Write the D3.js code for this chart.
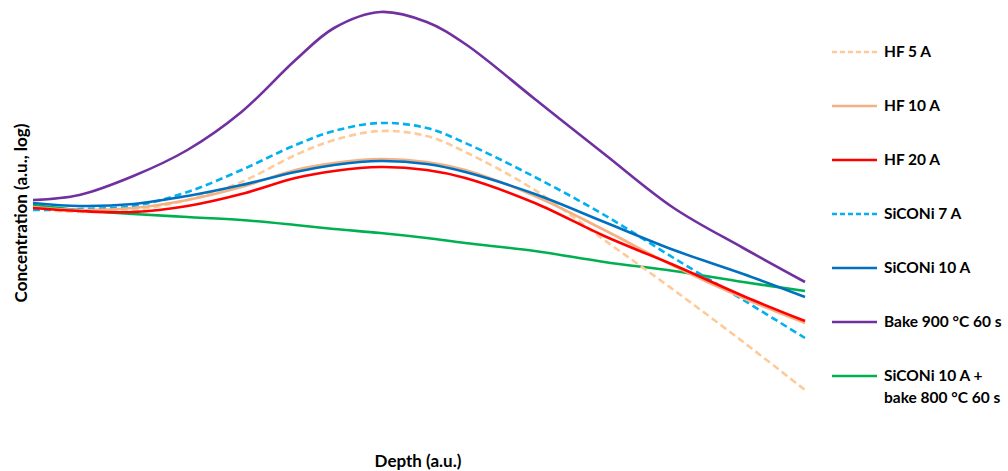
<!DOCTYPE html>
<html>
<head>
<meta charset="utf-8">
<script src="https://cdn.jsdelivr.net/npm/d3@7/dist/d3.min.js"></script>
<style>
  html, body { margin: 0; padding: 0; background: #fff; }
  svg { display: block; font-family: Lato, "Open Sans", sans-serif; }
</style>
</head>
<body>
<svg id="chart" width="1008" height="471"></svg>
<script>
// Depth (a.u.) sample positions
const depth = [0, 0.6, 1.3, 2, 2.7, 3.4, 3.9, 4.5, 5.1, 5.6, 6.5, 7.4, 8.3, 9.2, 10];

// Relative log concentration (a.u.)
const hf5        = [221, 218, 220, 230, 248, 275, 290, 299, 294, 278, 240, 190, 140, 88, 40];
const hf10       = [223, 220, 222, 230, 243, 260, 267, 271, 268, 260, 234, 200, 164, 132, 107];
const hf20       = [222, 219, 218, 224, 236, 252, 259, 263, 260, 252, 227, 194, 165, 134, 109];
const siconi7    = [220, 221, 224, 238, 260, 285, 299, 307, 302, 287, 253, 215, 172, 130, 92];
const siconi10   = [227, 224, 226, 234, 245, 258, 265, 269, 266, 258, 236, 208, 180, 156, 133];
const bake900    = [230, 235, 254, 280, 318, 370, 402, 418, 408, 386, 331, 276, 222, 182, 148];
const siconiBake = [225, 220, 216, 213, 210, 205, 201, 197, 192, 187, 179, 168, 159, 148, 139];

const seriesNames = ["HF 5 A", "HF 10 A", "HF 20 A", "SiCONi 7 A", "SiCONi 10 A", "Bake 900 °C 60 s", "SiCONi 10 A +|bake 800 °C 60 s"];
const seriesValues = [hf5, hf10, hf20, siconi7, siconi10, bake900, siconiBake];
const seriesColors = ["#FFCA99", "#F4B183", "#FF0000", "#00B0F0", "#0070C0", "#7030A0", "#00B050"];
const seriesDashed = [true, false, false, true, false, false, false];

const xLabel = "Depth (a.u.)";
const yLabel = "Concentration (a.u., log)";

const svg = d3.select("#chart");
const x = d3.scaleLinear().domain([0, 10]).range([33, 805]);
const y = d3.scaleLinear().domain([0, 430]).range([430, 0]);

const line = d3.line()
  .x((d, i) => x(depth[i]))
  .y(d => y(d))
  .curve(d3.curveCatmullRom.alpha(0.5));

const drawOrder = [6, 5, 0, 3, 1, 4, 2];
drawOrder.forEach(k => {
  svg.append("path")
    .attr("d", line(seriesValues[k]))
    .attr("fill", "none")
    .attr("stroke", seriesColors[k])
    .attr("stroke-width", 2.6)
    .attr("stroke-dasharray", seriesDashed[k] ? "7,4" : null)
    .attr("stroke-linecap", "butt");
});

// Legend
const legend = svg.append("g");
seriesNames.forEach((name, k) => {
  const ly = 52 + k * 54;
  legend.append("line")
    .attr("x1", 832).attr("x2", 877)
    .attr("y1", ly).attr("y2", ly)
    .attr("stroke", seriesColors[k])
    .attr("stroke-width", 2.6)
    .attr("stroke-dasharray", seriesDashed[k] ? "5,3" : null);
  const parts = name.split("|");
  parts.forEach((p, j) => {
    legend.append("text")
      .attr("x", 884)
      .attr("y", ly + 5 + j * 22)
      .attr("font-size", 15.5)
      .attr("font-weight", "bold")
      .attr("fill", "#000")
      .text(p);
  });
});

// Axis titles
svg.append("text")
  .attr("x", 418).attr("y", 467)
  .attr("text-anchor", "middle")
  .attr("font-size", 17)
  .attr("font-weight", "bold")
  .text(xLabel);

svg.append("text")
  .attr("transform", "translate(27,213) rotate(-90)")
  .attr("text-anchor", "middle")
  .attr("font-size", 17)
  .attr("font-weight", "bold")
  .text(yLabel);
</script>
</body>
</html>
